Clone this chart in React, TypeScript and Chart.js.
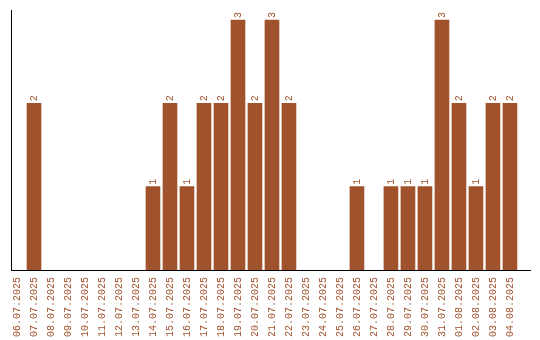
import React, { useEffect, useRef } from "react";
import { Chart, registerables } from "chart.js";

Chart.register(...registerables);

const dates = [
  "06.07.2025", "07.07.2025", "08.07.2025", "09.07.2025", "10.07.2025",
  "11.07.2025", "12.07.2025", "13.07.2025", "14.07.2025", "15.07.2025",
  "16.07.2025", "17.07.2025", "18.07.2025", "19.07.2025", "20.07.2025",
  "21.07.2025", "22.07.2025", "23.07.2025", "24.07.2025", "25.07.2025",
  "26.07.2025", "27.07.2025", "28.07.2025", "29.07.2025", "30.07.2025",
  "31.07.2025", "01.08.2025", "02.08.2025", "03.08.2025", "04.08.2025",
];
const counts = [
  0, 2, 0, 0, 0, 0, 0, 0, 1, 2,
  1, 2, 2, 3, 2, 3, 2, 0, 0, 0,
  1, 0, 1, 1, 1, 3, 2, 1, 2, 2,
];

const BAR = "#A0522D";

const valueLabels = {
  id: "valueLabels",
  afterDatasetsDraw(chart: any) {
    const ctx = chart.ctx;
    const meta = chart.getDatasetMeta(0);
    ctx.save();
    ctx.fillStyle = BAR;
    ctx.font = "10px 'Liberation Mono', monospace";
    ctx.textAlign = "left";
    ctx.textBaseline = "middle";
    meta.data.forEach((el: any, i: number) => {
      const v = counts[i];
      if (!v) return;
      ctx.save();
      ctx.translate(el.x, el.y - 2);
      ctx.rotate(-Math.PI / 2);
      ctx.fillText(String(v), 0, 0);
      ctx.restore();
    });
    ctx.restore();
  },
};

export default function App() {
  const ref = useRef<HTMLCanvasElement>(null);
  useEffect(() => {
    if (!ref.current) return;
    Chart.defaults.font.family = "'Liberation Mono', monospace";
    Chart.defaults.font.size = 10;
    const chart = new Chart(ref.current, {
      type: "bar",
      data: {
        datasets: [
          {
            data: counts.map((c, i) => ({ x: i, y: c === 0 ? null : c })),
            backgroundColor: BAR,
            barThickness: 14,
          },
        ],
      },
      options: {
        animation: false,
        responsive: false,
        maintainAspectRatio: false,
        layout: { padding: { left: 11, right: 10, top: 10, bottom: 0 } },
        plugins: { legend: { display: false }, tooltip: { enabled: false } },
        scales: {
          x: {
            type: "linear",
            min: -0.353,
            max: 30.18,
            offset: false,
            grid: { display: false, drawTicks: false },
            border: { display: true, color: "#000", width: 1 },
            afterBuildTicks: (scale: any) => {
              scale.ticks = dates.map((_, i) => ({ value: i }));
            },
            afterFit: (scale: any) => {
              scale.height = 70;
            },
            ticks: {
              autoSkip: false,
              maxRotation: 90,
              minRotation: 90,
              padding: 7,
              color: BAR,
              font: { family: "'Liberation Mono', monospace", size: 10 },
              callback: (v: any) => dates[Math.round(Number(v))] ?? "",
            },
          },
          y: {
            min: 0,
            max: 3.12,
            grid: { display: false, drawTicks: false },
            border: { display: true, color: "#000", width: 1 },
            ticks: { display: false },
          },
        },
      },
      plugins: [valueLabels],
    });
    return () => chart.destroy();
  }, []);
  return (
    <div style={{ position: "absolute", left: 0, top: 0, width: 540, height: 340, background: "#fff" }}>
      <canvas ref={ref} width={540} height={340} style={{ width: 540, height: 340 }} />
    </div>
  );
}
